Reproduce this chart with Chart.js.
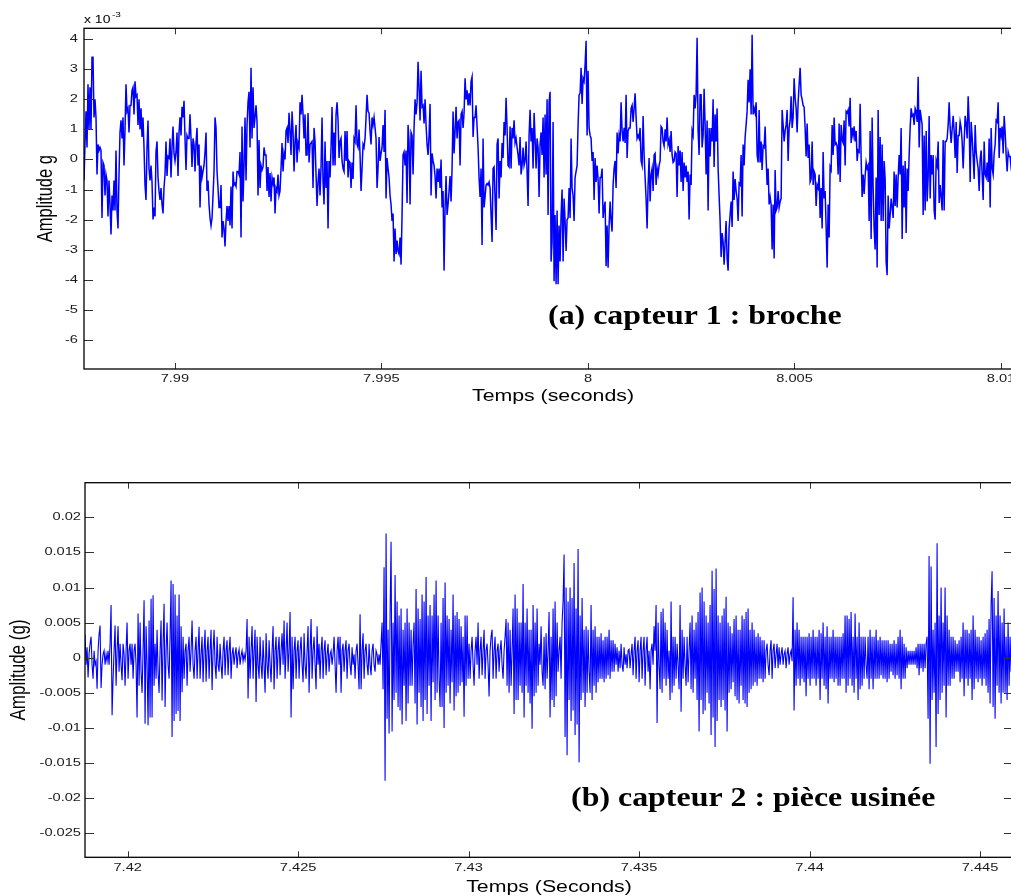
<!DOCTYPE html>
<html>
<head>
<meta charset="utf-8">
<script src="https://cdn.jsdelivr.net/npm/chart.js@4/dist/chart.umd.min.js"></script>
<style>
  html, body { margin: 0; padding: 0; background: #fff; overflow: hidden; width: 1011px; height: 896px; }
  canvas { position: absolute; left: 0; }
  #haut { top: 0; }
  #bas { top: 440px; }
</style>
</head>
<body>
<canvas id="haut" width="1030" height="420"></canvas>
<canvas id="bas" width="1030" height="460"></canvas>
<script>
// capteur 1 : broche, amplitude en 1e-3 g
const capteur1 = [
  -0.7, 0.5, 1.6, 0.4, 2.5, 1.0, 2.4, 1.0, 3.4, 3.4,
  1.4, 2.0, 1.4, -0.5, 0.5, 0.3, 0.4, 0.3,
  -1.95, -0.1, -0.2, -1.2, -0.5, -0.7, -1.9, -0.7, -1.5, -2.5, -1.2, -1.7, -0.7, -1.7, 0.3, -1.7, -2.3,
  -0.5, 0.9, 1.3, 0.7, 1.4, -0.2, 1.0, 2.5, 1.6, 1.7, 0.9, 1.8, 1.8, 2.3, 2.4, 1.5, 2.6, 2.1, 2.15, 1.15, 2.0, 1.0, 1.7, 0.75, 1.4, 0.4,
  -0.85, -1.35, 0.4, 1.3, -0.3, -0.7, -0.2, -0.75, -2.0, -1.6, -1.9, 0.25, 0.6, -0.6, -1.05, -1.35, -0.95, -1.5, -1.8, -0.95, -0.5,
  0.6, -0.55, 0.1, 0.05, 0.7, -0.6, 0.4, 1.1, 0.2, -0.05, 0.25, 0.9, -0.55, 0.9, 1.4, 0.8, 1.75, 1.4, 1.95, 0.7, -0.35, 0.8, 0.7, 0.7, 1.5, 0.7, -0.25, 0.7, 0.5, -0.4, 0.55, 1.05, -0.2, 0.5,
  -1.6, -0.2, -0.6, -0.4, -0.2, 0.25, 0.9, -1.05, -0.7, -1.5, -1.95, -2.2, -1.95, -1.2, -0.4, 1.4, 1.05, -0.4, -0.95, -1.6, -1.6, -0.85, -2.6, -2.05, -2.3, -2.9, -2.05, -1.55, -2.05, -1.55, -2.2, -0.9, -2.3, -0.4, -0.85, -0.8, -0.9, -0.4,
  -0.4, -0.5, 0.25, -2.6, 1.1, -1.4, -0.2, 1.4, -0.7, 1.15, 1.9, 2.25, 0.4, 3.05, 0.7, 2.4, 1.05, 1.4, 1.8, 1.25,
  -1.2, 0.65, -0.95, -0.2, -0.35, -0.25, 0.4, 0.15, 0.15, -1.05,
  -0.25, -1.25, -0.45, -1.4, -0.6, -0.8, -0.6, -1.8, -0.95, -1.05,
  -0.5, -1.2, -1.05, -0.3, 0.55, -0.4, 0.2, 0.0, 0.95, 1.05,
  0.55, 1.55, 0.95, 0.15, 1.6, 0.95, -0.4, 0.6, 1.15, -0.1,
  0.55, 0.4, 1.9, 1.5, 2.15, 1.5, 0.7, 1.5, 0.15, 0.15,
  1.55, -0.1, 0.5, 0.55, 0.6, -0.95, 1.05, 0.6, -0.5, -1.55,
  -0.75, -0.3, -1.2, -0.25, 1.4, -0.75, -1.5, 0.6, -0.95, -0.05,
  -2.3, -0.05, -0.6, 0.4, 1.75, -0.2, 0.9, -0.2, 1.5, 1.9,
  1.3, 0.05, 0.6, 0.7, -0.05, -0.3, -0.4, 0.95, -0.05, 0.95,
  -0.6, -0.05, -0.1, -0.95, -0.1, -0.65, 0.7, 0.6, 1.8, 0.5,
  0.4, 1.0, 0.15, -1.05, -0.3, 0.5, 0.4, 0.7, 1.4, 2.15,
  1.6, 1.55, 0.95, 0.5, 1.4, 1.15, 1.4, 1.05, 0.7, -0.95,
  -0.3, 0.75, -0.05, 0.2, 0.4, 1.15, 0.25, 1.65, -1.3, 0.05,
  -0.3, -0.6, -1.2, -1.5, -2.05,
  -1.8, -3.4, -2.3, -3.15, -2.7, -3.05, -3.15, -2.6, -3.5, -1.85,
  0.15, 0.25, -0.2, 0.3, -1.45, 1.15, 0.6, -1.5, 0.9, 0.8,
  -0.5, 1.05, 2.0, 1.5, 1.9, 3.25, 2.4, 1.3, 2.95, 1.75,
  1.8, 1.2, 2.0, 1.15, 0.5, 0.15, 0.8, 1.85, -1.2, 0.2,
  -0.05, -0.2, -0.55, -1.3, -0.3, -0.75, -0.3, -0.95, 0.0, -1.6,
  -1.05, -3.7, -1.6, -0.55, -1.85, -1.5, -1.05, -0.55, -1.4, -0.3,
  1.6, 0.2, 0.95, 1.75, 0.7, 1.25, 1.3, -0.2, 1.5, 1.6,
  1.05, 1.55, 2.7, 2.0, 2.3, 1.8, 2.2, 1.8, 2.6, 2.75,
  0.75, 1.4, 1.4, 1.8, 1.1, 0.4, -0.6, -1.25, -0.3, -2.85,
  0.7, -1.6, -1.25, -0.85, -0.8, -0.85, -0.75, -0.95, -1.85, -2.75,
  -0.3, -0.25, -1.3, -2.35, 0.5, 0.7, -1.3, -0.05, -0.6, 0.55,
  0.05, 1.25, 0.8, 2.05, 1.05, -0.2, -0.25, 1.1, -0.3, 1.05,
  0.7, 1.3, 0.55, 0.7, 0.4, 0.15, -0.2, 0.75, -0.5, -0.2,
  0.4, -0.2, -0.05, 0.6, -0.4, -1.55, 0.8, 1.65, 0.6, 1.05,
  -0.3, 1.55, 0.7, -0.3, 0.7, 0.4, -1.25, 0.5, 0.9, 0.15,
  1.4, -0.6, 1.5, -0.5,
  2.0, -1.85, 1.9, 2.25, -3.4, -2.75, 1.25, -4.05, -1.85, -4.15, -1.7, -4.15, -2.2, -3.4,
  -1.85, -1.0, -3.4, -1.3, -2.05, -3.05, -2.0, -1.95, -0.95, -1.95,
  0.7, -0.95, -1.2, -2.05, -0.6, -0.4, -0.2, 1.15, 2.15, 2.2,
  3.05, 1.85, 2.7, 2.6, 3.15, 3.95, 0.8, 2.95,
  1.05, 0.8, 0.7, -0.05, 0.25, -1.35, 0.05, -0.75, -0.2, -0.65,
  -1.8, -0.6, -0.6, -0.3, -1.95, -1.6, -1.4, -3.55, -2.2, -3.6,
  -2.2, -1.4, -2.05, -2.4, -0.85, -0.3, -0.05, -0.95, 0.9, 0.2,
  0.8, 0.6, 1.9, 0.95, 0.6, 1.05, 0.55, 2.15, 0.05, 0.95,
  1.05, 1.05, 1.7, 1.8, 1.25, 1.7, 2.2, 1.4, 0.7, 0.8,
  0.7, 1.05, -0.05, -0.2, 1.45, 0.15, -0.6, -1.3, -2.3, -0.85,
  0.05, -1.4, -0.5, -0.3, -1.05, 0.15, 0.2, -0.85, -0.3, -0.5,
  -0.2, -0.05, 1.1, 1.05, 0.6, 0.45, 1.0, 0.6, 1.4, 0.5,
  0.65, 0.25, 0.95, 0.15, -0.1, -0.05, 0.25, 0.2, -1.25, 0.45,
  -0.2, 0.3, -0.75, 0.25, -1.05, -0.1, -0.6, -0.2, -0.75, -0.4,
  -2.0, -0.5, -0.85, 0.95, 0.8, 2.15, 1.7, 2.15, 4.05, 0.95,
  0.15, 2.15,
  2.15, 0.4, 0.8, 2.35, 1.15, -0.5, 1.3, -1.7, 1.05, 0.1,
  1.05, 0.6, 2.0, -0.25, 1.5, 0.6, 1.7, -0.3, -1.2, -2.05,
  -3.25, -2.45, -2.75, -3.5, -2.75, -2.05, -3.3, -3.7, -2.3, -1.85,
  -1.4, -2.25, -0.4, -1.35, -0.65, -1.05, -1.3, -2.05, -0.8, -0.85,
  0.15, -1.9, 0.5, -0.2, 0.75, 1.15, 1.6, 2.65, 1.9, 3.0,
  1.5, 4.15, 1.5, 1.7, 1.55, 1.9, 0.15, -0.1, 1.65, -0.1,
  0.6, -0.35, 0.45, 0.4, 1.1, 0.05, -0.85, -0.3, -1.5, -1.25,
  -1.5, -3.0, -1.5, -3.3, -0.35, -1.7, -1.6, -1.05, -1.6, -1.4,
  -1.3, 1.65, 1.15, 0.6, 0.95, 1.15, 1.65, -0.05, 1.05, 1.3,
  2.1, 1.05, 1.4, 2.7, 2.05, 1.7, 0.9, 1.9, 2.5, 3.05,
  2.15, 2.0, 1.8, 1.75, 1.05, 0.1, 1.2, 0.05, 0.5, -0.75,
  -0.65, 0.6, -0.85, -0.4, -0.5, -1.55, -0.85, -0.95, -0.5, -1.95,
  -0.95, -2.3, 0.25, -1.3, -1.05, -2.25, -3.6, -1.5, -2.6, -0.25,
  -0.35, 1.15, 0.15, 1.4, 0.5, 0.55, 0.45, -0.5, 1.2, -0.75,
  1.15, 0.65, 0.55, 1.3, -0.2, 1.6, 1.55, 1.65, 1.1, 2.05,
  0.55, 1.05, 0.8, 1.1,
  0.6, 0.95, -0.05, 0.3, 0.25, 1.85, 0.05, -1.25, -0.5, -1.15,
  -0.55, -0.1, -0.3, -0.2, -2.05, 0.95, -2.65, 1.4, -0.95, -2.3,
  -3.0, -0.6, -3.6, 1.65, -1.85, 0.75, -2.05, 0.5, -2.05, -0.05,
  -0.65, -3.4, -3.85, -1.2, -2.3, -1.85, -1.3, -1.6, -1.95, -0.4,
  -1.55, -0.5, -1.6, -0.6, 0.15, -0.5, 1.05, -2.65, -0.2, -1.6,
  -0.05, -2.45, -0.3, -1.05, 0.15, 1.05, 1.7, 1.45, 1.5, 1.15,
  1.7, 1.6, 1.25, 2.75, 0.4, 1.65, 1.4, 1.15, -1.85, 0.8,
  -1.7, 0.95, -1.4, -0.6, 1.45, -1.3, 0.15, -0.5, 0.15, -1.7,
  -2.0, -0.05, -0.2, 0.6, -1.45, -0.85, -1.25, -1.7, 0.65, -1.7,
  0.6, 0.6, 0.7, 1.15, 1.9, 1.05, 0.55, 1.0, 1.45, 0.95,
  0.05, 1.25, -0.45, 0.8, 0.8, 1.25, 1.05, 0.6, -0.3, 0.6,
  1.45, 1.2, 0.7, 2.1, 1.25, -0.75, 1.25, 0.75, 0.1, -0.65,
  1.15, 0.25, -0.05, -0.3, -1.05, 0.0, 0.3, -0.5, -1.35, 0.6,
  -0.5, -0.6, -0.1, -0.75, 0.7, -1.6, 1.05, -0.3, -0.5, 0.2,
  0.5, 1.3, 1.25, 1.9, 0.05, 1.05, 0.8, 1.1, 0.2, 1.45,
  0.9, 0.15, -0.4, 0.25, 0.1, 0.1, -0.3, -0.5, 0.6
];

// capteur 2 : pièce usinée, amplitude en 1e-3 g
const capteur2 = [
  3.3, -1, 1.5, -2.8, 0.5, 2, 3, -1, -3, 1, -1, -0.5, -4.4, 1, 3.3, 4.6, -4.3, -1, 0.5, 1, -1, 0.5, -0.5, 1, -1,
  2, 7.5, -8.2, -3, 1, 4.6, -4, 1, 4.5, -2, 2, -1, -3.2, 2, 0.5, -4, 1, 5, -3, 1, 2, -1, 2,
  -3, 1, 2, -1, -8.5, 6.3, -4, 5, -2, -5, 1, 8.2, -9.4, 4.5, -1, -9.6, 5.3, -8.5, 8.4, -8.5, 8.9, -4, 2, -3,
  4, -2, -5, 1, 5.3, -6.1, 2, 7.7, -7, 1, 5, -1, -3, 3, 11, -11.3, 10.5, -9, 9, -8, 6, -7.6, 9, -9, 4.5, -4.9, 3, -3, 1, 2,
  -4, 1, 3, -2, 1, 5.3, -1, -3, 1, 3, -3, 1, 4.4, -3, 0.5, 3, -3.5, 1, 4, -3.4, 1, 3, -3, 1, 4, -4.6,
  1, 4, -1, -3, 3, -1, -2, 2, -1, -3, 1, 3, -2.5, 1, 2.5, -2.5, 1, 3, -3, 0.5, 1.5, -1, 0.5, 1.5, -1.5, 0.5, 1.2, -1, 0.3, 1, -0.5, 0.5, -0.3, 1,
  5.5, -5.8, 3, -3, 1, 4.5, -3, 1, 4, -6.3, 3, -1, -3, 3, -1, -3,
  2.5, -1, -5, 3.5, -1, -3, 2.5, -1, -3.5, 1, 4.5, -4.5, 1, 3, -3, 1, 3, -2.5, 1, 3.5, -1, 5.3, -3, 1, 5, -2, 1,
  6.5, -8.5, 3, -4.5, 1, 3, -3, 1, 2.5, -3, 1, 3, -1, -3.5, 3.5, -1, -3, 1, 4.5, -5, 1, 5.5, -3, 1, 3, -1, -4.5, 4.5, -1, 2,
  -3, 1, 3, -3, 1, 2.5, -2.5, 0.5, 2, -2, 0.5, 1, -1, 0.5, 3, -1, -5, 1, 3, -1,
  3, -5, 1, 2, -2, 1, 2.5, -3, 1, 2, -1, -2.5, 1.5, -1, 0.5, -3, 1, 2, -1, -4.5, 6.2, -4.5, 1, 3.5, -3, 1, 2, -1, -2.5, 2, -1, -2.5, 1, 2, -1, -2, 1, 0.5, -1, 0.5,
  -1, 2, 5, -4.5, 12.9, -17.5, 17.7, -8.7, 4, -10.8, 6, 16.5, -10.5, 5, -6, 11.8, -5, 8, -7, 6, -7.5, 7, -9.5, 4, -4, 5, -9, 7, -6.5, 5,
  -4, 4, -4, 2, 5, -6.5, 9.8, -9.5, 7, -5, 5.5, -7, 9, -9, 8, -6, 11.5, -8, 6, -4, 7.5, -9, 6, -3.5, 9, -6, 11, -5, 6, -3,
  -7, 5, -7, 8.5, -10, 10.7, -5, 6, -4, 5.5, -6.5, 4, -3.5, 9, -7.5, 6, -5.5, 6.5, -5, 5.5, -4, 4.5, -3.5, 3, -8.4, 6, -4, 6, -3, 2,
  -3, 1, 3, -1, -4, 1, 3, -1, 5, -3, 1, 3, -2.5, 1, 4, -3, 1, 2, -1, -5.5, 1, 3, 4, -3, 1, 3, -3, 1, 2, -2, 1, 2.5, -1,
  -3, 1, 3, 5.5, -4, 5, -5, 4, -4, 1, 7, -8, 9, -6, 7, -6, 5, -4, 5, -5, 10.5, -8.5, 5, -4, 7, -5, 4, -6.5, 4, -10.1, 7.5, -5.5, 5, -5, 7, -4, 2, -1, 4.5, -2,
  -4, 3, -4.5, 3.5, -3, 1, 6.5, -8.5, 3, -6, 7, -7, 8, -5.5, 5, -2, 1, 3, -3, 5,
  8, 14.7, -11.3, 10, -13.9, 8, -6, 10, -9, 8.5, -7.5, 13.5, -11, 7, -9.5, 15.5, -14.9, 6, -6, 8.5, -5, 4, -7, 4.5, -5, 4, -2,
  -5, 7.5, -6, 4, -4, 4.5, -5, 3, -3.5, 3, -3, 3.5, -3, 2.5, -3.5, 3, -3, 3, -2.5, 4, -3, 2.5, -2, 2.5, -2, 2, -1, 1.5, -2, 1, -1.5, 2, -1,
  -2, 1.5, -1, 0.5, -1.5, 1, 1.2, -1.5, 0.5, 2, -2.5, 1, 3, -3, 1, 2.5, -3.5, 1, 3, -3, 1, 3, -4, 1, 3, -2, 1, -4.5, 1, 2, -1, 4.5, 1, 7.5, -9.3, 5, -1, -4.5, 6.5, -5, 7, -3, 5, -4, 4, -3, 1,
  -6, 8, -5, 3, -4, 3, -3, 2, -1, -4.5, 7.5, -7.7, 4, -3, 3, -1, -4, 3, -3.5, 1, 5, -4.5, 6,
  -5, 4, -3, 5, -6, 6.5, -10.5, 9.3, -6, 10, -8, 8, -7.5, 6, -5, 5, -6.5, 7.5, -11, 12.4, -8.5, 9.8, -12.7, 12.7, -9, 6, -6, 5, -7, 6, -6, 7, -7.5, 8.7, -10.5, 5, -5,
  4.5, -4.5, 3.5, -3.5, 5.5, -5.5, 6, -6, 4, -6.5, 4, -4, 6, -6, 5.5, -6.5, 6.5, -7, 7, -5, 4, -4.5, 5, -4, 4, -3.5, 3, -4, 3.5, -3, 3, -3, 2.5, -3.5, 2.5, -3, 1,
  2, -1, -2.5, 1, 2.5, -3, 1, 2, -1.5, 0.5, 2, -1.5, 1.5, -1, 0.5, 1.5, -1, 0.5, 1, -1.5, 0.5, 1.5, -1, 0.5, 1, -0.5,
  8.6, -7.5, 4, -4, 5, -3, 4, -4, 3, -3, 3, -3.5, 3, -5.5, 3, -3, 3.5, -4, 3, -3, 4, -3, 3, -4, 3, -3, 4, -6, 3.5, -3, 5, -4, 3, -4.5, 4.5, -6.5, 3, -3, 3, -3,
  4, -3.5, 3, -3, 3, -4, 3, -4, 3, -3, 3.5, -3, 6, -5, 6, -4, 5.5, -3, 6.5, -4, 3, -5, 6.3, -3, 3, -6, 5, -4.5, 3, -4, 3, -3, 3, -1,
  -3, 3, -4.5, 4, -3, 3, -4.5, 3, -3, 4, -3, 2.5, -3, 3, -2.5, 2.5, -3, 2.5, -3, 2.5,
  -3.5, 2.5, -3, 2, -2, 2, -2.5, 2.5, -3, 2, -2.5, 3, -3, 4, -4.5, 3, -3, 2, -3, 1.5,
  -1.5, 1, -1, 1, -1, 1, -1, 1, -1, 1.5, -1.5, 2, -2.5, 2, -1.5, 2, -2, 2, -1.5, 2,
  3, -8.7, 14.5, -15.1, 13, -6, 4, -5, 5, -12.7, 16.3, -8, 6, -6, 10, -5, 5, -4, 10, -8.5, 6, -4, 4, -4, 3, -3,
  3, -3, 2.5, -2, 2, -2, 2.5, -3.5, 3, -3, 5, -5.5, 4, -3, 4, -4, 3.5, -3, 4, -6,
  6, -4.5, 4, -3, 3, -3.5, 3, -3, 2.5, -4, 3, -3, 3.5, -4, 4, -5, 5.5, -6.5, 7.5, 12.3,
  -7, 8.5, -8.7, 6, -4, 9.5, -5, 6, -6.5, 5, -5, 7, -5, 3, -6, 5, -4, 3, -2
];

// acquisition : début de la fenêtre et fréquence d'échantillonnage
const t0Capteur1 = 7.9878, fsCapteur1 = 41300;
const t0Capteur2 = 7.41875, fsCapteur2 = 34092;

// graduations
const xTicksHaut = [7.99, 7.995, 8, 8.005, 8.01];
const xLabelsHaut = ['7.99', '7.995', '8', '8.005', '8.01'];
const yTicksHaut = [-6, -5, -4, -3, -2, -1, 0, 1, 2, 3, 4];
const yLabelsHaut = ['-6', '-5', '-4', '-3', '-2', '-1', '0', '1', '2', '3', '4'];
const xTicksBas = [7.42, 7.425, 7.43, 7.435, 7.44, 7.445];
const xLabelsBas = ['7.42', '7.425', '7.43', '7.435', '7.44', '7.445'];
const yTicksBas = [-25, -20, -15, -10, -5, 0, 5, 10, 15, 20];
const yLabelsBas = ['-0.025', '-0.02', '-0.015', '-0.01', '-0.005', '0', '0.005', '0.01', '0.015', '0.02'];

Chart.defaults.font.family = '"Liberation Sans", Arial, sans-serif';
Chart.defaults.color = '#1a1a1a';

// the original figure was stretched sideways, so text is widened the same way
const STRETCH = 1.33;

function fillStretched(ctx, fill, text, x, y, sx, maxWidth) {
  const m = ctx.getTransform();
  const p = m.transformPoint(new DOMPoint(x, y));
  ctx.setTransform(new DOMMatrix().translate(p.x, p.y).scale(sx, 1).translate(-p.x, -p.y).multiply(m));
  if (maxWidth === undefined) fill.call(ctx, text, x, y);
  else fill.call(ctx, text, x, y, maxWidth);
  ctx.setTransform(m);
}

const matlabLook = {
  id: 'matlabLook',
  beforeInit(chart) {
    const ctx = chart.ctx;
    const fill = ctx.fillText;
    ctx._fill = fill;
    ctx.fillText = function (text, x, y, maxWidth) {
      fillStretched(ctx, fill, text, x, y, STRETCH, maxWidth);
    };
  },
  afterDraw(chart, args, opts) {
    const { ctx, chartArea: a, scales: { x, y } } = chart;
    ctx.save();
    // inward ticks on the four sides
    ctx.strokeStyle = '#333';
    ctx.lineWidth = 1;
    ctx.beginPath();
    x.ticks.forEach(t => {
      const px = Math.round(x.getPixelForValue(t.value)) + 0.5;
      ctx.moveTo(px, a.bottom); ctx.lineTo(px, a.bottom - 6);
      ctx.moveTo(px, a.top); ctx.lineTo(px, a.top + 6);
    });
    y.ticks.forEach(t => {
      const py = Math.round(y.getPixelForValue(t.value)) + 0.5;
      ctx.moveTo(a.left, py); ctx.lineTo(a.left + 9, py);
      ctx.moveTo(a.right, py); ctx.lineTo(a.right - 9, py);
    });
    ctx.stroke();
    ctx.strokeStyle = '#000';
    ctx.lineWidth = 1.3;
    ctx.strokeRect(a.left, a.top, a.right - a.left, a.bottom - a.top);

    ctx.fillStyle = '#000';
    ctx.textAlign = 'left';
    ctx.textBaseline = 'alphabetic';
    if (opts.exponent) {
      ctx.font = '10.5px "Liberation Sans"';
      fillStretched(ctx, ctx._fill, 'x 10', a.left, a.top - 5, STRETCH);
      const w = ctx.measureText('x 10').width * STRETCH;
      ctx.font = '7.5px "Liberation Sans"';
      fillStretched(ctx, ctx._fill, '-3', a.left + w + 1.5, a.top - 11.5, STRETCH);
    }
    ctx.font = 'bold 28px "Liberation Serif"';
    fillStretched(ctx, ctx._fill, opts.text, opts.x, opts.y, 1.14);
    ctx.restore();
  }
};

function makeChart(id, c) {
  return new Chart(document.getElementById(id), {
    type: 'line',
    data: {
      datasets: [{
        data: c.values.map((v, i) => ({ x: c.t0 + i / c.fs, y: v })),
        borderColor: '#0000ff',
        borderWidth: c.lineWidth,
        pointRadius: 0,
        tension: 0,
        fill: false
      }]
    },
    options: {
      responsive: false,
      animation: false,
      events: [],
      layout: { padding: c.padding },
      plugins: {
        legend: { display: false },
        tooltip: { enabled: false },
        matlabLook: c.caption
      },
      scales: {
        x: {
          type: 'linear',
          min: c.xMin,
          max: c.xMax,
          grid: { display: false, drawTicks: false },
          border: { display: false },
          afterBuildTicks: s => { s.ticks = c.xTicks.map(v => ({ value: v })); },
          afterFit: s => { s.height = c.xHeight; },
          ticks: {
            autoSkip: false, maxRotation: 0, padding: c.xPad,
            font: { size: 11 },
            callback: (v, i) => c.xLabels[i]
          },
          title: {
            display: true, text: c.xTitle, color: '#000',
            font: { size: 16 }, padding: { top: 0, bottom: c.xTitlePad }
          }
        },
        y: {
          min: c.yMin,
          max: c.yMax,
          grid: { display: false, drawTicks: false },
          border: { display: false },
          afterBuildTicks: s => { s.ticks = c.yTicks.map(v => ({ value: v })); },
          afterFit: s => { s.width = c.yWidth; },
          ticks: {
            autoSkip: false, padding: c.yPad,
            font: { size: 11 },
            callback: (v, i) => c.yLabels[i]
          },
          title: {
            display: true, text: c.yTitle, color: '#000',
            font: { size: c.yTitleSize }, padding: { top: c.yTitlePad, bottom: 0 }
          }
        }
      }
    },
    plugins: [matlabLook]
  });
}

makeChart('haut', {
  values: capteur1, t0: t0Capteur1, fs: fsCapteur1, lineWidth: 1.5,
  xMin: 7.98780, xMax: 8.010508, yMin: -6.975, yMax: 4.366,
  xTicks: xTicksHaut, xLabels: xLabelsHaut, yTicks: yTicksHaut, yLabels: yLabelsHaut,
  padding: { left: 0, top: 28.3, right: 8, bottom: 0 },
  xHeight: 51, yWidth: 84, xPad: 3.4, yPad: 6,
  xTitle: 'Temps (seconds)', xTitlePad: 13.4,
  yTitle: 'Amplitude g', yTitleSize: 16.5, yTitlePad: 35.6,
  caption: { text: '(a) capteur 1 : broche', x: 548, y: 324, exponent: true }
});

makeChart('bas', {
  values: capteur2, t0: t0Capteur2, fs: fsCapteur2, lineWidth: 1.1,
  xMin: 7.418748, xMax: 7.445968, yMin: -28.418, yMax: 24.927,
  xTicks: xTicksBas, xLabels: xLabelsBas, yTicks: yTicksBas, yLabels: yLabelsBas,
  padding: { left: 0, top: 42.7, right: 17, bottom: 0 },
  xHeight: 42.7, yWidth: 85, xPad: 4.1, yPad: 4,
  xTitle: 'Temps (Seconds)', xTitlePad: 2.4,
  yTitle: 'Amplitude (g)', yTitleSize: 17, yTitlePad: 8.8,
  caption: { text: '(b) capteur 2 : pièce usinée', x: 571, y: 366, exponent: false }
});
</script>
</body>
</html>
